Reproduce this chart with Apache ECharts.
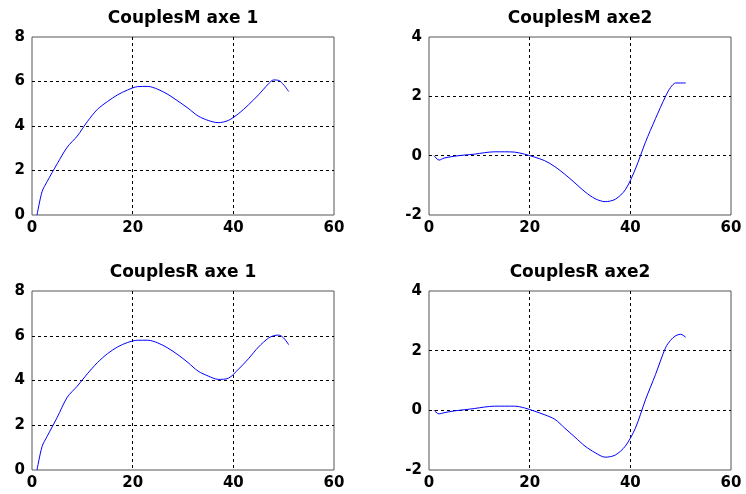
<!DOCTYPE html>
<html>
<head>
<meta charset="utf-8">
<script src="https://cdn.jsdelivr.net/npm/echarts@6/dist/echarts.min.js"></script>
<style>
  html, body { margin: 0; padding: 0; background: #fff; }
  #main { width: 746px; height: 494px; }
</style>
</head>
<body>
<div id="main"></div>
<script>
// sample positions (x) shared by all four curves
var xs = [1, 2, 3, 5, 7, 9, 11, 13, 15, 17, 19, 21, 23, 25, 27, 29, 31, 33, 35, 37, 39, 41, 43, 45, 47, 48, 49, 50, 51];

var couplesM1 = [0, 1.05, 1.5, 2.3, 3.05, 3.55, 4.2, 4.75, 5.1, 5.4, 5.62, 5.77, 5.78, 5.65, 5.42, 5.12, 4.8, 4.45, 4.25, 4.15, 4.25, 4.55, 4.95, 5.4, 5.9, 6.07, 6.05, 5.85, 5.55];
var couplesM2 = [0, -0.15, -0.08, -0.02, 0.02, 0.05, 0.1, 0.13, 0.13, 0.12, 0.05, -0.05, -0.17, -0.37, -0.63, -0.92, -1.22, -1.45, -1.55, -1.47, -1.15, -0.45, 0.45, 1.25, 2.0, 2.3, 2.45, 2.45, 2.45];
var couplesR1 = [0, 1.05, 1.5, 2.35, 3.25, 3.75, 4.3, 4.8, 5.2, 5.5, 5.7, 5.8, 5.8, 5.68, 5.45, 5.15, 4.8, 4.42, 4.2, 4.05, 4.1, 4.5, 4.97, 5.5, 5.9, 6.0, 6.03, 5.9, 5.6];
var couplesR2 = [0, -0.12, -0.08, -0.02, 0.02, 0.06, 0.11, 0.14, 0.14, 0.14, 0.08, -0.03, -0.15, -0.3, -0.6, -0.9, -1.2, -1.42, -1.57, -1.5, -1.2, -0.6, 0.35, 1.2, 2.1, 2.35, 2.5, 2.55, 2.45];

var titles = ['CouplesM axe 1', 'CouplesM axe2', 'CouplesR axe 1', 'CouplesR axe2'];
var allSeries = [couplesM1, couplesM2, couplesR1, couplesR2];
var yRanges = [[0, 8, 2], [-2, 4, 2], [0, 8, 2], [-2, 4, 2]];
var xRange = [0, 60, 20];

var boxes = [
    { left: 32, top: 37, width: 302, height: 178 },
    { left: 429, top: 37, width: 302, height: 178 },
    { left: 32, top: 291, width: 302, height: 179 },
    { left: 429, top: 291, width: 302, height: 179 }
];
var titleTops = [10, 10, 264, 264];

var font = 'DejaVu Sans';
var dotted = { color: '#000', width: 1, type: [3, 3] };

function pairs(ys) {
    return xs.map(function (x, i) { return [x, ys[i]]; });
}

var chart = echarts.init(document.getElementById('main'));

var option = {
    animation: false,
    backgroundColor: '#fff',
    title: [],
    grid: [],
    xAxis: [],
    yAxis: [],
    series: []
};

for (var i = 0; i < 4; i++) {
    var b = boxes[i];
    option.title.push({
        text: titles[i],
        left: b.left + b.width / 2,
        top: titleTops[i],
        textAlign: 'center',
        padding: 0,
        textStyle: { fontFamily: font, fontWeight: 'bold', fontSize: 17, color: '#000' }
    });
    option.grid.push({
        left: b.left, top: b.top, width: b.width, height: b.height,
        show: true, borderColor: '#555', borderWidth: 1, backgroundColor: '#fff'
    });
    option.xAxis.push({
        type: 'value', gridIndex: i,
        min: xRange[0], max: xRange[1], interval: xRange[2],
        axisLine: { show: false },
        axisTick: { show: false },
        axisLabel: { fontFamily: font, fontWeight: 'bold', fontSize: 15, color: '#000', margin: 6 },
        splitLine: { show: true, showMinLine: false, showMaxLine: false, lineStyle: dotted }
    });
    option.yAxis.push({
        type: 'value', gridIndex: i,
        min: yRanges[i][0], max: yRanges[i][1], interval: yRanges[i][2],
        axisLine: { show: false },
        axisTick: { show: false },
        axisLabel: { fontFamily: font, fontWeight: 'bold', fontSize: 15, color: '#000', margin: 7 },
        splitLine: { show: true, showMinLine: false, showMaxLine: false, lineStyle: dotted }
    });
    option.series.push({
        type: 'line',
        xAxisIndex: i, yAxisIndex: i,
        data: pairs(allSeries[i]),
        showSymbol: false,
        smooth: 0.3,
        lineStyle: { color: '#0000ff', width: 1 }
    });
}

chart.setOption(option);
</script>
</body>
</html>
